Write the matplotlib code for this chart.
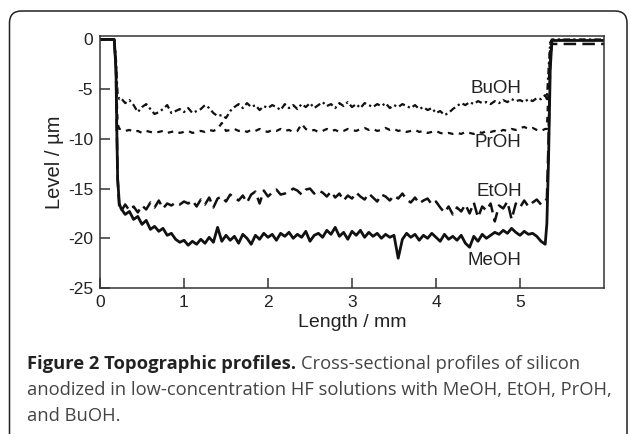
import numpy as np
import matplotlib
matplotlib.use("Agg")
import matplotlib.pyplot as plt
from matplotlib.patches import FancyBboxPatch
from matplotlib.transforms import IdentityTransform

plt.rcParams['font.family'] = ['Liberation Sans', 'DejaVu Sans']
plt.rcParams['axes.unicode_minus'] = False

# step profile: flat top, etched plateau (0.25 .. 5.30 mm every 0.05 mm), flat top again
plateau_x = np.round(np.arange(0.25, 5.301, 0.05), 2)

meoh_plateau = [
    -17.0, -17.6, -17.3, -18.1, -17.8, -18.6, -18.2, -19.1, -18.8, -19.3,
    -19.0, -19.7, -19.5, -20.1, -20.4, -20.2, -20.7, -20.3, -20.6, -20.1,
    -20.5, -19.9, -20.4, -18.9, -20.3, -19.7, -20.2, -19.8, -20.5, -19.6,
    -20.0, -20.6, -19.7, -20.1, -19.5, -19.9, -19.6, -20.2, -19.5, -19.8,
    -19.4, -20.0, -19.6, -19.9, -19.3, -20.3, -19.7, -19.5, -19.9, -19.2,
    -19.6, -18.9, -19.8, -19.4, -20.1, -19.3, -19.7, -19.2, -19.9, -19.4,
    -19.8, -19.5, -20.0, -19.6, -19.9, -19.7, -22.0, -20.1, -19.5, -19.9,
    -19.6, -20.2, -19.7, -20.0, -19.5, -19.9, -20.3, -19.6, -20.1, -19.8,
    -20.2, -19.7, -20.5, -20.9, -19.8, -20.3, -19.6, -20.0, -19.7, -19.4,
    -19.6, -19.2, -19.5, -19.0, -19.4, -19.7, -19.3, -19.6, -19.5, -19.8,
    -20.3, -20.6]

etoh_plateau = [
    -17.3, -16.6, -17.2, -16.8, -17.4, -16.7, -17.1, -16.4, -16.9, -16.2,
    -17.0, -16.5, -16.7, -16.4, -16.6, -16.3, -16.5, -16.2, -16.8, -16.1,
    -16.6, -15.9, -16.9, -16.0, -15.8, -16.3, -15.6, -15.9, -16.2, -15.7,
    -16.4, -15.6, -15.3, -16.5, -15.2, -15.8, -15.4, -15.1, -15.6, -15.5,
    -15.3, -15.0, -15.2, -15.6, -15.1, -15.0, -15.5, -15.2, -15.4, -15.8,
    -15.3, -15.9, -15.5, -16.2, -15.7, -16.0, -15.4, -15.8, -16.1, -15.5,
    -15.9, -16.3, -15.6, -15.8, -16.2, -15.7, -16.0, -15.5, -16.1, -16.4,
    -15.9, -16.5, -16.2, -16.0, -16.6, -16.3, -16.9, -17.4, -16.8, -17.6,
    -16.9, -17.3, -16.6, -17.5, -16.4, -17.9, -16.8, -17.2, -16.5, -18.3,
    -16.7, -17.0, -16.3, -18.1, -16.5, -16.9, -16.2, -16.8, -16.4, -16.1,
    -16.6, -16.3]

proh_plateau = [
    -9.0, -9.2, -9.1, -9.3, -9.2, -9.4, -9.2, -9.3, -9.4, -9.3,
    -9.2, -9.4, -9.3, -9.2, -9.4, -9.3, -9.2, -9.4, -9.3, -9.2,
    -9.3, -9.1, -9.2, -9.0, -8.4, -9.2, -9.1, -9.0, -9.2, -9.1,
    -9.3, -9.1, -9.2, -9.0, -9.2, -9.3, -9.1, -9.2, -9.0, -9.2,
    -9.1, -9.3, -9.2, -8.5, -9.0, -9.2, -9.1, -9.3, -9.2, -9.0,
    -9.2, -9.1, -9.3, -9.2, -9.0, -9.1, -9.2, -9.0, -8.9, -9.1,
    -9.0, -9.2, -9.1, -8.9, -9.1, -9.0, -9.2, -9.1, -9.3, -9.2,
    -9.1, -9.3, -9.2, -9.4, -9.3, -9.2, -9.4, -9.5, -9.4, -9.5,
    -9.4, -9.5, -9.3, -9.4, -9.5, -9.3, -9.4, -9.2, -9.3, -9.2,
    -9.3, -9.1, -9.2, -9.0, -9.1, -8.9, -8.8, -9.0, -8.9, -9.1,
    -9.2, -9.0]

buoh_plateau = [
    -5.9, -6.4, -6.1, -6.6, -7.3, -6.8, -6.5, -7.0, -7.5, -7.3,
    -7.0, -6.6, -7.4, -7.2, -7.0, -7.3, -6.9, -7.4, -7.2, -7.0,
    -6.6, -6.9, -7.4, -7.7, -7.6, -7.9, -7.2, -6.8, -6.5, -6.9,
    -6.4, -6.8, -6.6, -7.1, -6.7, -6.9, -6.6, -6.8, -7.1, -6.5,
    -6.9, -6.6, -7.0, -6.5, -6.8, -6.4, -6.9, -6.6, -6.3, -6.7,
    -6.5, -6.9, -6.4, -6.7, -6.3, -6.8, -6.5, -6.9, -6.4, -6.6,
    -6.8, -6.5, -6.7, -6.4, -6.9, -6.6, -6.8, -6.5, -6.7, -6.9,
    -6.6, -7.0, -6.8, -7.1, -6.9, -7.4, -7.2, -7.6, -7.4, -7.0,
    -6.7, -6.4, -6.6, -6.3, -6.5, -6.2, -6.4, -6.3, -6.5, -6.2,
    -6.4, -6.1, -6.3, -6.0, -6.2, -6.1, -6.3, -6.0, -6.2, -5.9,
    -6.0, -5.6]

# edges of the etched area (left drop, right rise, unetched surface)
left_x = [0.0, 0.17, 0.19, 0.20, 0.21, 0.23]
meoh_left = [0.0, 0.0, -3.0, -9.0, -14.0, -16.5]
etoh_left = [0.0, 0.0, -3.0, -9.0, -14.0, -17.0]
proh_left = [0.0, 0.0, -3.0, -6.0, -8.5, -9.0]
buoh_left = [0.0, 0.0, -2.0, -4.0, -5.5, -6.0]

right_x = [5.32, 5.34, 5.36, 5.38, 6.0]
meoh_right = [-18.5, -12.0, -3.0, -0.1, -0.1]
etoh_right = [-16.0, -10.0, -2.0, -0.45, -0.45]
proh_right = [-9.0, -5.0, -0.5, -0.05, -0.05]
buoh_right = [-6.0, -3.0, -0.3, 0.0, 0.0]

names = ['MeOH', 'EtOH', 'PrOH', 'BuOH']
label_y = [-22.2, -15.25, -10.4, -4.9]


def profile(left, plateau, right):
    x = np.concatenate([left_x, plateau_x, right_x])
    y = np.concatenate([left, plateau, right])
    return x, y


series = [
    profile(meoh_left, meoh_plateau, meoh_right),
    profile(etoh_left, etoh_plateau, etoh_right),
    profile(proh_left, proh_plateau, proh_right),
    profile(buoh_left, buoh_plateau, buoh_right),
]
styles = [
    dict(linestyle='-', linewidth=2.0),
    dict(linestyle=(0, (5, 2.5)), linewidth=1.8),
    dict(linestyle=(0, (2.5, 2.5)), linewidth=1.6),
    dict(linestyle=(0, (3, 1.5, 1, 1.5)), linewidth=1.6),
]

fig = plt.figure(figsize=(6.29, 4.34), dpi=100)
ax = fig.add_axes([100 / 629, 1 - 288 / 434, 504 / 629, 252 / 434])

for (x, y), st in zip(series, styles):
    ax.plot(x, y, color='#111111', **st)

for name, ly in zip(names, label_y):
    ax.text(5.02, ly, name, ha='right', va='center', fontsize=13.5, color='#222222')

ax.set_xlim(0, 6.0)
ax.set_ylim(-25, 0.35)
ax.set_xticks([0, 1, 2, 3, 4, 5])
ax.set_yticks([0, -5, -10, -15, -20, -25])
ax.tick_params(direction='in', length=7, width=1.1, labelsize=12.5, color='#333333', labelcolor='#222222')
ax.tick_params(axis='x', pad=5)
ax.tick_params(axis='y', pad=5)
for sp in ax.spines.values():
    sp.set_linewidth(1.1)
    sp.set_color('#333333')
ax.set_xlabel('Length / mm', fontsize=14, color='#222222', labelpad=3)
ax.set_ylabel('Level / µm', fontsize=14.5, color='#222222', labelpad=3)

# rounded frame of the figure box
frame = FancyBboxPatch((9.5, -30), 617.5, 453, boxstyle='round,pad=0,rounding_size=12',
                       transform=IdentityTransform(), facecolor='none', edgecolor='#222222',
                       linewidth=1.1)
fig.add_artist(frame)

# caption
cap_font = ['Open Sans', 'DejaVu Sans']
cap_size = 13.2
t1 = fig.text(27 / 629, 1 - 369 / 434, 'Figure 2 Topographic profiles.', fontsize=cap_size,
              fontweight='bold', family=cap_font, color='#222222', va='baseline')
fig.canvas.draw()
bb = t1.get_window_extent(fig.canvas.get_renderer())
fig.text((bb.x1 + 5) / 629, 1 - 369 / 434, 'Cross-sectional profiles of silicon', fontsize=cap_size,
         family=cap_font, color='#444444', va='baseline')
fig.text(27 / 629, 1 - 395 / 434, 'anodized in low-concentration HF solutions with MeOH, EtOH, PrOH,',
         fontsize=cap_size, family=cap_font, color='#444444', va='baseline')
fig.text(27 / 629, 1 - 421 / 434, 'and BuOH.', fontsize=cap_size, family=cap_font, color='#444444',
         va='baseline')

fig.savefig('out.png', dpi=100)
